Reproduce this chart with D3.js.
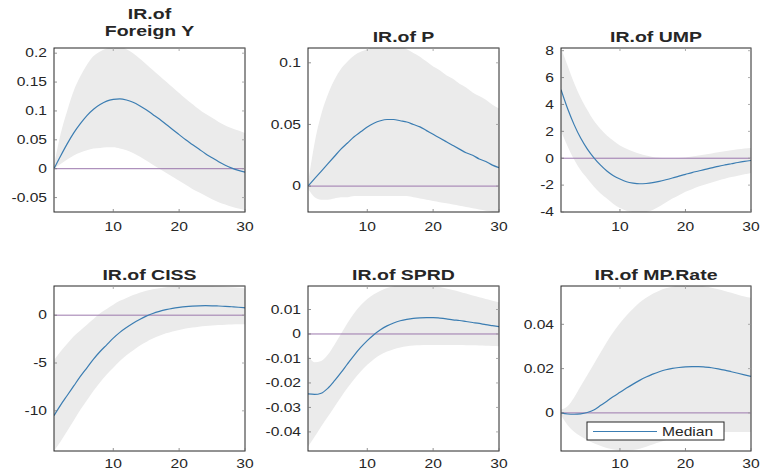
<!DOCTYPE html>
<html>
<head>
<meta charset="utf-8">
<script src="https://cdn.jsdelivr.net/npm/d3@7"></script>
<style>
    body { margin: 0; background: #fff; }
    svg text { font-family: "Liberation Sans", Arial, sans-serif; fill: #262626; }
</style>
</head>
<body>
<div id="chart"></div>
<script>
// horizons
const horizon = [1, 2, 3, 4, 5, 6, 7, 8, 9, 10, 11, 12, 13, 14, 15, 16, 17, 18, 19, 20, 21, 22, 23, 24, 25, 26, 27, 28, 29, 30];
const xTicks = [10, 20, 30];

// Foreign Y
const fyMedian = [0, 0.022, 0.043, 0.062, 0.078, 0.092, 0.103, 0.111, 0.117, 0.120, 0.121, 0.119, 0.115, 0.109, 0.102, 0.094, 0.086, 0.077, 0.068, 0.059, 0.050, 0.042, 0.034, 0.026, 0.019, 0.012, 0.006, 0.001, -0.003, -0.006];
const fyUpper = [0.005, 0.06, 0.10, 0.135, 0.16, 0.18, 0.195, 0.203, 0.208, 0.21, 0.211, 0.207, 0.200, 0.191, 0.181, 0.171, 0.161, 0.151, 0.141, 0.131, 0.121, 0.112, 0.103, 0.095, 0.088, 0.081, 0.075, 0.070, 0.066, 0.062];
const fyLower = [0, 0.008, 0.016, 0.023, 0.028, 0.032, 0.035, 0.036, 0.037, 0.037, 0.035, 0.032, 0.027, 0.021, 0.014, 0.007, 0.0, -0.007, -0.014, -0.021, -0.028, -0.035, -0.041, -0.047, -0.053, -0.058, -0.062, -0.066, -0.069, -0.072];

// P
const pMedian = [0, 0.006, 0.012, 0.018, 0.024, 0.030, 0.035, 0.040, 0.044, 0.048, 0.051, 0.053, 0.054, 0.054, 0.053, 0.052, 0.050, 0.048, 0.045, 0.042, 0.039, 0.036, 0.033, 0.030, 0.027, 0.025, 0.022, 0.020, 0.017, 0.015];
const pUpper = [0.002, 0.035, 0.058, 0.074, 0.086, 0.095, 0.101, 0.106, 0.109, 0.111, 0.113, 0.114, 0.114, 0.114, 0.113, 0.111, 0.108, 0.105, 0.101, 0.097, 0.094, 0.090, 0.087, 0.083, 0.080, 0.076, 0.073, 0.070, 0.066, 0.063];
const pLower = [-0.002, -0.009, -0.011, -0.011, -0.010, -0.009, -0.009, -0.008, -0.008, -0.008, -0.008, -0.008, -0.008, -0.008, -0.008, -0.008, -0.009, -0.010, -0.011, -0.012, -0.013, -0.014, -0.015, -0.016, -0.017, -0.018, -0.019, -0.020, -0.021, -0.022];

// UMP
const umpMedian = [5.1, 3.7, 2.5, 1.5, 0.7, 0.05, -0.5, -0.95, -1.3, -1.55, -1.75, -1.85, -1.9, -1.88, -1.82, -1.72, -1.6, -1.47, -1.33, -1.2, -1.07, -0.95, -0.83, -0.72, -0.6, -0.5, -0.41, -0.32, -0.24, -0.17];
const umpUpper = [8.2, 6.9, 5.6, 4.5, 3.6, 2.8, 2.2, 1.7, 1.3, 0.95, 0.7, 0.5, 0.33, 0.2, 0.1, 0.04, 0.0, 0.0, 0.02, 0.06, 0.12, 0.2, 0.28, 0.36, 0.44, 0.52, 0.6, 0.66, 0.72, 0.77];
const umpLower = [2.0, 0.9, -0.1, -0.9, -1.5, -2.1, -2.6, -3.0, -3.4, -3.7, -3.9, -4.0, -4.05, -4.0, -3.85, -3.6, -3.3, -3.0, -2.75, -2.5, -2.3, -2.1, -1.95, -1.8, -1.65, -1.52, -1.4, -1.3, -1.2, -1.1];

// CISS
const cissMedian = [-10.5, -9.4, -8.4, -7.4, -6.4, -5.5, -4.6, -3.8, -3.1, -2.4, -1.8, -1.3, -0.85, -0.45, -0.1, 0.18, 0.4, 0.58, 0.72, 0.82, 0.9, 0.95, 0.98, 0.99, 0.98, 0.96, 0.93, 0.88, 0.83, 0.77];
const cissUpper = [-4.7, -3.8, -3.0, -2.2, -1.6, -1.0, -0.4, 0.2, 0.65, 1.1, 1.5, 1.8, 2.1, 2.35, 2.55, 2.7, 2.82, 2.92, 3.0, 3.05, 3.1, 3.1, 3.1, 3.08, 3.05, 3.02, 2.98, 2.93, 2.88, 2.82];
const cissLower = [-14.2, -13.2, -12.1, -11.0, -9.9, -8.9, -7.9, -7.0, -6.2, -5.5, -4.8, -4.2, -3.7, -3.2, -2.8, -2.45, -2.15, -1.9, -1.7, -1.55, -1.4, -1.3, -1.2, -1.13, -1.08, -1.04, -1.0, -0.98, -0.96, -0.95];

// SPRD
const sprdMedian = [-0.0245, -0.0247, -0.0242, -0.0222, -0.0192, -0.0158, -0.0122, -0.0087, -0.0055, -0.0027, -0.0003, 0.0017, 0.0033, 0.0045, 0.0054, 0.006, 0.0064, 0.0066, 0.0067, 0.0067, 0.0065, 0.0062, 0.0058, 0.0055, 0.0051, 0.0047, 0.0043, 0.0038, 0.0034, 0.003];
const sprdUpper = [-0.0086, -0.0115, -0.011, -0.0085, -0.0045, 0.0, 0.0045, 0.0085, 0.0117, 0.0143, 0.0162, 0.0177, 0.0188, 0.0195, 0.02, 0.0202, 0.0203, 0.0202, 0.02, 0.0197, 0.0192, 0.0186, 0.018, 0.0173, 0.0165, 0.0157, 0.015, 0.0143, 0.0136, 0.013];
const sprdLower = [-0.046, -0.042, -0.0378, -0.0338, -0.0298, -0.0258, -0.022, -0.0185, -0.0153, -0.0126, -0.0103, -0.0085, -0.0072, -0.0062, -0.0055, -0.005, -0.0047, -0.0046, -0.0045, -0.0045, -0.0045, -0.0045, -0.0045, -0.0045, -0.0046, -0.0046, -0.0047, -0.0048, -0.0049, -0.005];

// MP.Rate
const mpMedian = [0.0, -0.0005, -0.0006, -0.0004, 0.0002, 0.0013, 0.0033, 0.0053, 0.0074, 0.0093, 0.0112, 0.013, 0.0147, 0.0162, 0.0175, 0.0186, 0.0195, 0.0201, 0.0205, 0.0208, 0.0209, 0.0209, 0.0207, 0.0204, 0.0199, 0.0193, 0.0186, 0.0179, 0.0172, 0.0165];
const mpUpper = [0.0015, 0.003, 0.007, 0.012, 0.017, 0.022, 0.027, 0.032, 0.0365, 0.0405, 0.044, 0.047, 0.0498, 0.052, 0.0538, 0.0552, 0.0563, 0.057, 0.0575, 0.0577, 0.0577, 0.0575, 0.0571, 0.0565, 0.0558, 0.055, 0.0542, 0.0534, 0.0526, 0.052];
const mpLower = [-0.001, -0.0055, -0.0085, -0.0105, -0.0122, -0.0137, -0.0148, -0.0158, -0.0165, -0.0169, -0.017, -0.0168, -0.0162, -0.0153, -0.0143, -0.0133, -0.0123, -0.0113, -0.0104, -0.0097, -0.0092, -0.0089, -0.0087, -0.0086, -0.0086, -0.0086, -0.0086, -0.0086, -0.0086, -0.0086];

const titles = [["IR.of", "Foreign Y"], ["IR.of P"], ["IR.of UMP"], ["IR.of CISS"], ["IR.of SPRD"], ["IR.of MP.Rate"]];
const yTicks = [
    [-0.05, 0, 0.05, 0.1, 0.15, 0.2],
    [0, 0.05, 0.1],
    [-4, -2, 0, 2, 4, 6, 8],
    [-10, -5, 0],
    [-0.04, -0.03, -0.02, -0.01, 0, 0.01],
    [0, 0.02, 0.04]
];
const yLimits = [[-0.075, 0.209], [-0.021, 0.112], [-4, 8.2], [-14.2, 3.05], [-0.0478, 0.0196], [-0.0172, 0.0573]];
const medians = [fyMedian, pMedian, umpMedian, cissMedian, sprdMedian, mpMedian];
const uppers = [fyUpper, pUpper, umpUpper, cissUpper, sprdUpper, mpUpper];
const lowers = [fyLower, pLower, umpLower, cissLower, sprdLower, mpLower];

const W = 762, H = 471;
const cols = [[54, 245], [308, 499], [561, 751]];
const rows = [[48, 212], [286, 451]];
const stretch = 1.3;   // the picture's text is wide
const bandColor = "#ebebeb", lineColor = "#3b7db2", zeroColor = "#9c78ad", axisColor = "#262626";

const svg = d3.select("#chart").append("svg")
    .attr("width", W)
    .attr("height", H);

function addText(g, x, y, str, anchor, size, weight) {
    return g.append("text")
        .attr("transform", "translate(" + x + "," + y + ") scale(" + stretch + ",1)")
        .attr("text-anchor", anchor)
        .style("font-size", size + "px")
        .style("font-weight", weight || "normal")
        .text(str);
}

titles.forEach(function (title, i) {
    let c = cols[i % 3], r = rows[Math.floor(i / 3)];
    let x = d3.scaleLinear().domain([1, 30]).range(c);
    let y = d3.scaleLinear().domain(yLimits[i]).range([r[1], r[0]]);
    let g = svg.append("g");

    g.append("defs").append("clipPath")
        .attr("id", "clip" + i)
        .append("rect")
        .attr("x", c[0]).attr("y", r[0])
        .attr("width", c[1] - c[0]).attr("height", r[1] - r[0]);

    let plot = g.append("g").attr("clip-path", "url(#clip" + i + ")");

    // band
    plot.append("path")
        .datum(horizon)
        .attr("fill", bandColor)
        .attr("d", d3.area()
            .curve(d3.curveMonotoneX)
            .x(function (d) { return x(d); })
            .y0(function (d, k) { return y(lowers[i][k]); })
            .y1(function (d, k) { return y(uppers[i][k]); }));

    // zero line
    plot.append("line")
        .attr("x1", x(1)).attr("x2", x(30))
        .attr("y1", y(0)).attr("y2", y(0))
        .attr("stroke", zeroColor)
        .attr("stroke-width", 1);

    // median
    plot.append("path")
        .datum(horizon)
        .attr("fill", "none")
        .attr("stroke", lineColor)
        .attr("stroke-width", 1.2)
        .attr("d", d3.line()
            .curve(d3.curveMonotoneX)
            .x(function (d) { return x(d); })
            .y(function (d, k) { return y(medians[i][k]); }));

    // box
    g.append("rect")
        .attr("x", c[0]).attr("y", r[0])
        .attr("width", c[1] - c[0]).attr("height", r[1] - r[0])
        .attr("fill", "none")
        .attr("stroke", axisColor)
        .attr("stroke-width", 1);

    // x ticks
    let labelY = i < 3 ? r[1] + 19 : r[1] + 17;
    xTicks.forEach(function (t) {
        g.append("line").attr("x1", x(t)).attr("x2", x(t)).attr("y1", r[1]).attr("y2", r[1] - 3)
            .attr("stroke", "#777").attr("stroke-width", 0.8);
        g.append("line").attr("x1", x(t)).attr("x2", x(t)).attr("y1", r[0]).attr("y2", r[0] + 3)
            .attr("stroke", "#999").attr("stroke-width", 0.8);
        addText(g, x(t), labelY, t, "middle", 12);
    });

    // y ticks
    yTicks[i].forEach(function (t) {
        g.append("line").attr("x1", c[0]).attr("x2", c[0] + 3).attr("y1", y(t)).attr("y2", y(t))
            .attr("stroke", "#777").attr("stroke-width", 0.8);
        g.append("line").attr("x1", c[1]).attr("x2", c[1] - 3).attr("y1", y(t)).attr("y2", y(t))
            .attr("stroke", "#999").attr("stroke-width", 0.8);
        addText(g, c[0] - 7, y(t) + 4.3, t, "end", 12);
    });

    // title
    if (title.length === 2) {
        addText(g, (c[0] + c[1]) / 2, 18.5, title[0], "middle", 15, "bold");
        addText(g, (c[0] + c[1]) / 2, 35.5, title[1], "middle", 15, "bold");
    } else {
        addText(g, (c[0] + c[1]) / 2, r[0] - 6, title[0], "middle", 15, "bold");
    }
});

// legend in last panel
let leg = svg.append("g");
leg.append("rect")
    .attr("x", 587).attr("y", 422)
    .attr("width", 137).attr("height", 18)
    .attr("fill", "#fff")
    .attr("stroke", axisColor)
    .attr("stroke-width", 1);
leg.append("line")
    .attr("x1", 593).attr("x2", 657)
    .attr("y1", 431.5).attr("y2", 431.5)
    .attr("stroke", lineColor)
    .attr("stroke-width", 1.2);
addText(leg, 662, 436, "Median", "start", 12);
</script>
</body>
</html>
